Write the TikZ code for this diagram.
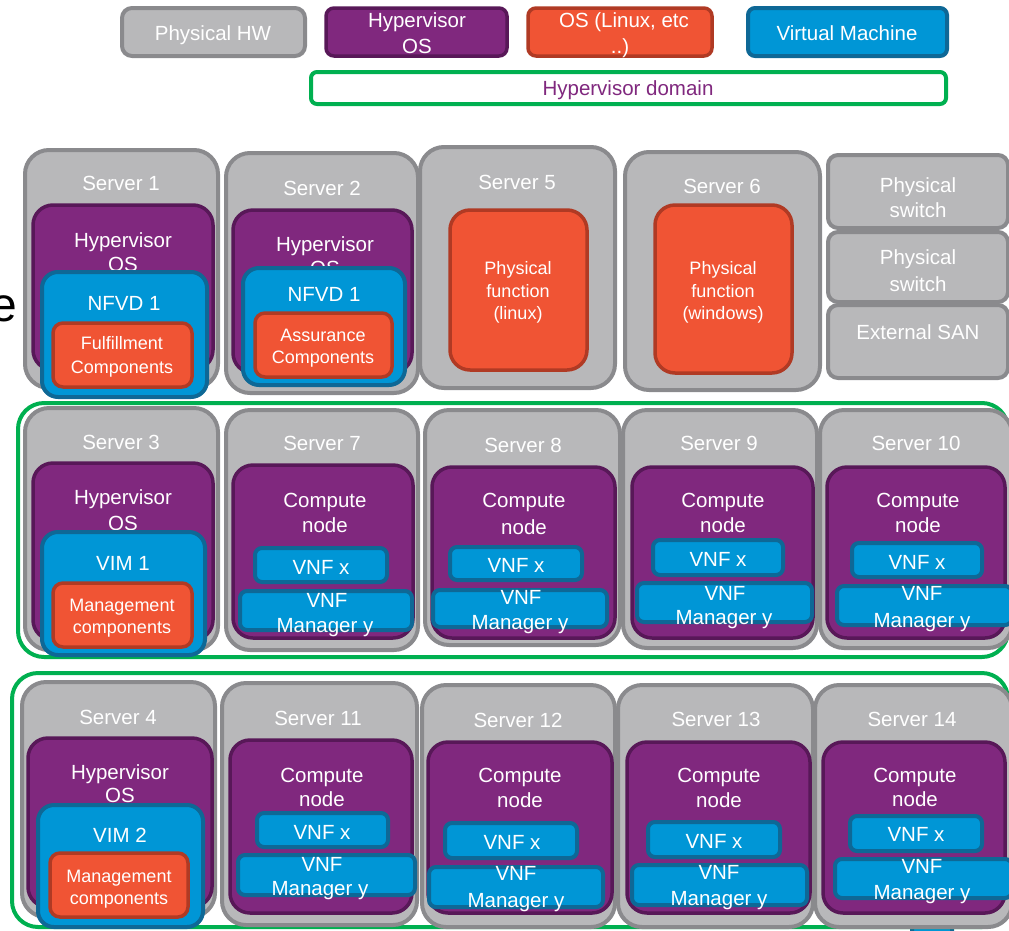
\documentclass[tikz,border=0pt]{standalone}
\usepackage{fontspec}
\setmainfont{Liberation Sans}
\definecolor{grayF}{RGB}{184,184,186}
\definecolor{grayD}{RGB}{138,138,141}
\definecolor{purpF}{RGB}{128,40,126}
\definecolor{purpD}{RGB}{88,24,88}
\definecolor{blueF}{RGB}{0,150,214}
\definecolor{blueD}{RGB}{14,104,150}
\definecolor{orF}{RGB}{240,84,52}
\definecolor{orD}{RGB}{176,58,36}
\definecolor{domG}{RGB}{0,176,80}
\newcommand\fa{\fontsize{20.5}{24}\selectfont}
\newcommand\fb{\fontsize{18}{22}\selectfont}
\newcommand\bx[6]{\node[#1,inner sep=0pt,outer sep=0pt,minimum width={(#4)-(#2)},minimum height={(#5)-(#3)}] (#6) at ({((#2)+(#4))/2},{((#3)+(#5))/2}) {};}
\newcommand\tx[5]{\node[lab,font=#1] (#2) at (#3,#4) {#5};}
\tikzset{
  hw/.style={fill=grayF,draw=grayD,line width=4pt,rounded corners=24pt},
  hwsmall/.style={fill=grayF,draw=grayD,line width=4pt,rounded corners=10pt},
  hyp/.style={fill=purpF,draw=purpD,line width=3.5pt,rounded corners=20pt},
  hypsmall/.style={fill=purpF,draw=purpD,line width=3.5pt,rounded corners=8pt},
  vm/.style={fill=blueF,draw=blueD,line width=4pt,rounded corners=16pt},
  vnfb/.style={fill=blueF,draw=blueD,line width=4pt,rounded corners=7pt},
  osb/.style={fill=orF,draw=orD,line width=3.5pt,rounded corners=10pt},
  osbig/.style={fill=orF,draw=orD,line width=3.5pt,rounded corners=20pt},
  dom/.style={draw=domG,line width=4pt,rounded corners=26pt},
  domsmall/.style={draw=domG,fill=white,line width=4pt,rounded corners=6pt},
  lab/.style={text=white,inner sep=0pt,anchor=base}
}
\begin{document}
\begin{tikzpicture}[x=1pt,y=-1pt]
\useasboundingbox (0,0) rectangle (1009,930);
\clip (0,0) rectangle (1009,930);
% left partial letter
\node[font=\fontsize{48}{50}\selectfont,text=black,inner sep=0pt,anchor=base east] (ee) at (17.5,321) {e};
% legend
\bx{hwsmall}{122}{8}{305}{56}{lgHW}
\tx{\fa}{lgHWt}{213}{40}{Physical HW}
\bx{hypsmall}{326}{8}{507}{56}{lgHyp}
\tx{\fa}{lgHypa}{417}{27}{Hypervisor}
\tx{\fa}{lgHypb}{417}{53}{OS}
\bx{osb,rounded corners=8pt}{528}{8}{712}{56}{lgOS}
\tx{\fa}{lgOSa}{624}{27}{OS (Linux, etc}
\tx{\fa}{lgOSb}{620}{53}{..)}
\bx{vnfb}{748}{8}{947}{56}{lgVM}
\tx{\fa}{lgVMt}{847}{40}{Virtual Machine}
\bx{domsmall}{311}{72}{946}{104}{lgDom}
\node[lab,font=\fa,text=purpF] (lgDomt) at (628,95) {Hypervisor domain};
% ===== Row 1 =====
% Server 1
\bx{hw}{25}{150}{218}{388}{s1}
\tx{\fa}{s1t}{121}{190}{Server 1}
\bx{hyp}{33}{205}{213}{370}{s1h}
\tx{\fa}{s1ha}{123}{247}{Hypervisor}
\tx{\fa}{s1hb}{123}{271}{OS}
\bx{vm}{42}{272}{207}{397}{s1v}
\tx{\fa}{s1vt}{124}{310}{NFVD 1}
\bx{osb}{53}{323}{192}{387}{s1o}
\tx{\fb}{s1oa}{122}{349}{Fulfillment}
\tx{\fb}{s1ob}{122}{373}{Components}
% Server 2
\bx{hw}{226}{153}{418}{393}{s2}
\tx{\fa}{s2t}{322}{195}{Server 2}
\bx{hyp}{233}{210}{412}{373}{s2h}
\tx{\fa}{s2ha}{325}{251}{Hypervisor}
\tx{\fa}{s2hb}{325}{275}{OS}
\bx{vm}{243}{268}{405}{385}{s2v}
\tx{\fa}{s2vt}{324}{301}{NFVD 1}
\bx{osb}{255}{313}{392}{377}{s2o}
\tx{\fb}{s2oa}{323}{341}{Assurance}
\tx{\fb}{s2ob}{323}{363}{Components}
% Server 5
\bx{hw}{420}{147}{615}{388}{s5}
\tx{\fa}{s5t}{517}{189}{Server 5}
\bx{osbig}{450}{210}{587}{370}{s5o}
\tx{\fb}{s5oa}{518}{274}{Physical}
\tx{\fb}{s5ob}{518}{297}{function}
\tx{\fb}{s5oc}{518}{319}{(linux)}
% Server 6
\bx{hw}{625}{152}{820}{390}{s6}
\tx{\fa}{s6t}{722}{193}{Server 6}
\bx{osbig}{655}{205}{792}{373}{s6o}
\tx{\fb}{s6oa}{723}{274}{Physical}
\tx{\fb}{s6ob}{723}{297}{function}
\tx{\fb}{s6oc}{723}{319}{(windows)}
% switches and SAN
\bx{hwsmall}{828}{155}{1008}{228}{sw1}
\tx{\fa}{sw1a}{918}{192}{Physical}
\tx{\fa}{sw1b}{918}{217}{switch}
\bx{hwsmall}{828}{232}{1008}{302}{sw2}
\tx{\fa}{sw2a}{918}{264}{Physical}
\tx{\fa}{sw2b}{918}{291}{switch}
\bx{hwsmall}{828}{305}{1008}{378}{san}
\tx{\fa}{sant}{918}{339}{External SAN}
% ===== Row 2 =====
\bx{dom}{18}{403}{1008}{657}{dom2}
% Server 3
\bx{hw}{25}{408}{218}{650}{s3}
\tx{\fa}{s3t}{121}{449}{Server 3}
\bx{hyp}{33}{463}{213}{640}{s3h}
\tx{\fa}{s3ha}{123}{504}{Hypervisor}
\tx{\fa}{s3hb}{123}{530}{OS}
\bx{vm}{42}{532}{205}{655}{s3v}
\tx{\fa}{s3vt}{123}{570}{VIM 1}
\bx{osb}{53}{583}{192}{647}{s3o}
\tx{\fb}{s3oa}{122}{611}{Management}
\tx{\fb}{s3ob}{122}{633}{components}
% Server 7
\bx{hw}{226}{410}{418}{650}{s7}
\tx{\fa}{s7t}{322}{450}{Server 7}
\bx{hyp}{233}{465}{413}{638}{s7h}
\tx{\fa}{s7ha}{325}{507}{Compute}
\tx{\fa}{s7hb}{325}{532}{node}
\bx{vnfb}{255}{548}{387}{582}{s7x}
\tx{\fa}{s7xt}{321}{574}{VNF x}
\bx{vnfb}{240}{591}{412}{630}{s7m}
\tx{\fa}{s7ma}{327}{607}{VNF}
\tx{\fa}{s7mb}{325}{632}{Manager y}
% Server 8
\bx{hw}{425}{410}{620}{645}{s8}
\tx{\fa}{s8t}{523}{452}{Server 8}
\bx{hyp}{432}{467}{615}{638}{s8h}
\tx{\fa}{s8ha}{524}{507}{Compute}
\tx{\fa}{s8hb}{524}{534}{node}
\bx{vnfb}{450}{547}{582}{580}{s8x}
\tx{\fa}{s8xt}{516}{572}{VNF x}
\bx{vnfb}{433}{590}{607}{627}{s8m}
\tx{\fa}{s8ma}{521}{604}{VNF}
\tx{\fa}{s8mb}{520}{629}{Manager y}
% Server 9
\bx{hw}{623}{410}{817}{648}{s9}
\tx{\fa}{s9t}{719}{450}{Server 9}
\bx{hyp}{632}{467}{813}{638}{s9h}
\tx{\fa}{s9ha}{723}{507}{Compute}
\tx{\fa}{s9hb}{723}{532}{node}
\bx{vnfb}{653}{540}{783}{575}{s9x}
\tx{\fa}{s9xt}{718}{566}{VNF x}
\bx{vnfb}{637}{583}{812}{622}{s9m}
\tx{\fa}{s9ma}{725}{600}{VNF}
\tx{\fa}{s9mb}{724}{624}{Manager y}
% Server 10
\bx{hw}{820}{410}{1012}{648}{s10}
\tx{\fa}{s10t}{916}{450}{Server 10}
\bx{hyp}{827}{467}{1005}{638}{s10h}
\tx{\fa}{s10ha}{918}{507}{Compute}
\tx{\fa}{s10hb}{918}{532}{node}
\bx{vnfb}{852}{543}{982}{577}{s10x}
\tx{\fa}{s10xt}{917}{569}{VNF x}
\bx{vnfb}{837}{586}{1012}{625}{s10m}
\tx{\fa}{s10ma}{922}{600}{VNF}
\tx{\fa}{s10mb}{922}{627}{Manager y}
% ===== Row 3 =====
\bx{vnfb}{912}{922}{952}{950}{peek}
\bx{dom}{12}{673}{1008}{927}{dom3}
% Server 4
\bx{hw}{22}{682}{215}{917}{s4}
\tx{\fa}{s4t}{118}{724}{Server 4}
\bx{hyp}{28}{738}{212}{907}{s4h}
\tx{\fa}{s4ha}{120}{779}{Hypervisor}
\tx{\fa}{s4hb}{120}{802}{OS}
\bx{vm}{38}{805}{203}{927}{s4v}
\tx{\fa}{s4vt}{120}{842}{VIM 2}
\bx{osb}{50}{853}{188}{917}{s4o}
\tx{\fb}{s4oa}{119}{882}{Management}
\tx{\fb}{s4ob}{119}{904}{components}
% Server 11
\bx{hw}{222}{683}{417}{925}{s11}
\tx{\fa}{s11t}{318}{725}{Server 11}
\bx{hyp}{230}{740}{412}{913}{s11h}
\tx{\fa}{s11ha}{322}{782}{Compute}
\tx{\fa}{s11hb}{322}{806}{node}
\bx{vnfb}{257}{813}{388}{847}{s11x}
\tx{\fa}{s11xt}{322}{839}{VNF x}
\bx{vnfb}{238}{855}{415}{895}{s11m}
\tx{\fa}{s11ma}{322}{871}{VNF}
\tx{\fa}{s11mb}{320}{895}{Manager y}
% Server 12
\bx{hw}{422}{685}{615}{927}{s12}
\tx{\fa}{s12t}{518}{727}{Server 12}
\bx{hyp}{428}{742}{612}{913}{s12h}
\tx{\fa}{s12ha}{520}{782}{Compute}
\tx{\fa}{s12hb}{520}{807}{node}
\bx{vnfb}{445}{823}{577}{858}{s12x}
\tx{\fa}{s12xt}{512}{849}{VNF x}
\bx{vnfb}{429}{867}{603}{907}{s12m}
\tx{\fa}{s12ma}{516}{880}{VNF}
\tx{\fa}{s12mb}{516}{907}{Manager y}
% Server 13
\bx{hw}{618}{685}{813}{927}{s13}
\tx{\fa}{s13t}{716}{726}{Server 13}
\bx{hyp}{627}{742}{810}{913}{s13h}
\tx{\fa}{s13ha}{719}{782}{Compute}
\tx{\fa}{s13hb}{719}{807}{node}
\bx{vnfb}{648}{822}{780}{857}{s13x}
\tx{\fa}{s13xt}{714}{848}{VNF x}
\bx{vnfb}{632}{865}{807}{905}{s13m}
\tx{\fa}{s13ma}{719}{879}{VNF}
\tx{\fa}{s13mb}{719}{905}{Manager y}
% Server 14
\bx{hw}{815}{685}{1012}{927}{s14}
\tx{\fa}{s14t}{912}{726}{Server 14}
\bx{hyp}{823}{742}{1005}{913}{s14h}
\tx{\fa}{s14ha}{915}{782}{Compute}
\tx{\fa}{s14hb}{915}{806}{node}
\bx{vnfb}{850}{816}{982}{851}{s14x}
\tx{\fa}{s14xt}{916}{841}{VNF x}
\bx{vnfb}{835}{859}{1012}{898}{s14m}
\tx{\fa}{s14ma}{922}{873}{VNF}
\tx{\fa}{s14mb}{922}{899}{Manager y}
\end{tikzpicture}
\end{document}
